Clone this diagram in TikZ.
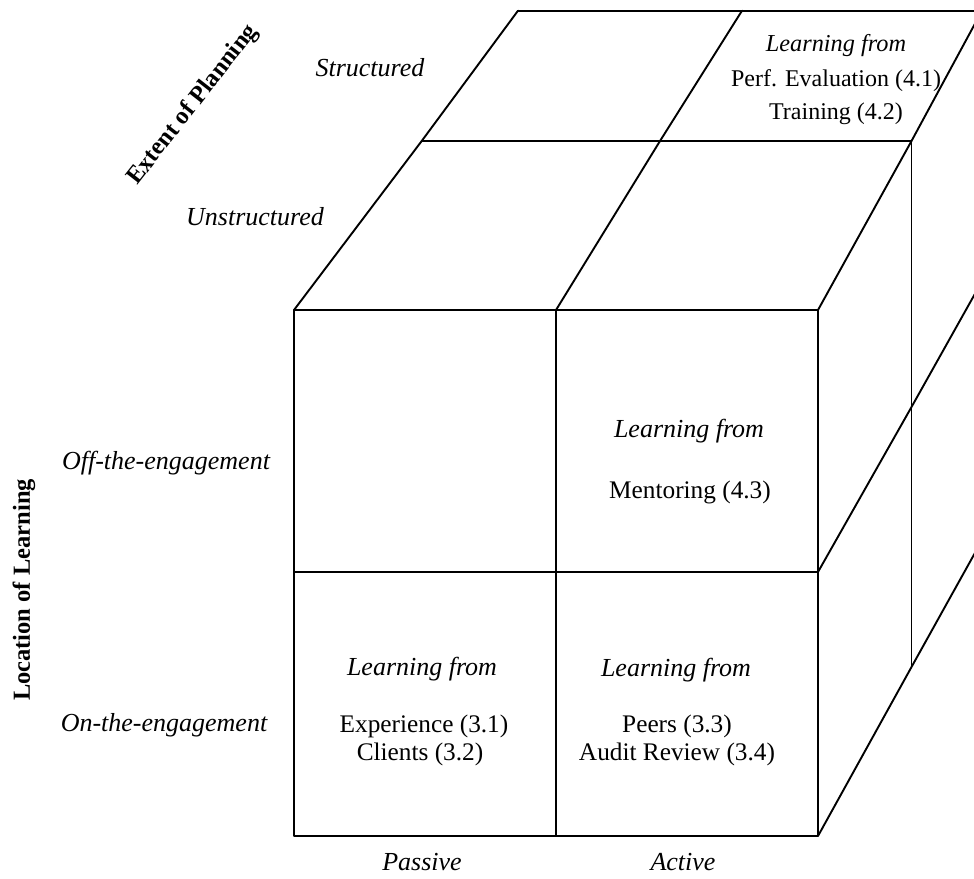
\documentclass[tikz,border=0pt]{standalone}
\usepackage{fontspec}
\setmainfont{Liberation Serif}
\begin{document}
\begin{tikzpicture}[x=1pt,y=-1pt,
  edge/.style={line width=1.9pt, line cap=round, line join=round},
  lbl/.style={font=\fontsize{26}{30}\selectfont\itshape, inner sep=0pt, anchor=base},
  txt/.style={font=\fontsize{25.3}{30}\selectfont, inner sep=0pt, anchor=base},
  toplbl/.style={font=\fontsize{24.3}{29}\selectfont\itshape, inner sep=0pt, anchor=base},
  toptxt/.style={font=\fontsize{24}{29}\selectfont, inner sep=0pt, anchor=base},
  axis/.style={font=\fontsize{24.5}{29}\selectfont\bfseries, inner sep=0pt, anchor=center}]
\useasboundingbox (0,0) rectangle (974,878);
% coordinates
\coordinate (FA) at (294,310); \coordinate (FB) at (556,310); \coordinate (FC) at (818,310);
\coordinate (MA) at (294,572); \coordinate (MC) at (818,572);
\coordinate (BA) at (294,836); \coordinate (BB) at (556,836); \coordinate (BC) at (818,836);
\coordinate (T1A) at (421.7,141); \coordinate (T1B) at (660,141); \coordinate (T1C) at (911.5,141);
\coordinate (T2A) at (518,10.7); \coordinate (T2B) at (742,10.7); \coordinate (T2C) at (982,10.7);
\coordinate (RM) at (911.5,407); \coordinate (RB) at (911.5,667);
\coordinate (RMx) at (981,283); \coordinate (RBx) at (981,542);
\begin{scope}
\clip (0,0) rectangle (974,878);
% front face
\draw[edge] (FA) rectangle (BC);
\draw[edge] (FB) -- (BB);
\draw[edge] (MA) -- (MC);
% top face
\draw[edge] (FA) -- (T1A) -- (T2A);
\draw[edge] (FB) -- (T1B) -- (T2B);
\draw[edge] (FC) -- (T1C) -- (T2C);
\draw[edge] (T1A) -- (T1C);
\draw[edge] (T2A) -- (984,10.7);
% right face
\draw[edge] (T1C) -- (RB);
\draw[edge] (MC) -- (RM) -- (RMx);
\draw[edge] (BC) -- (RB) -- (RBx);
\end{scope}
% axis labels
\node[axis, rotate=52] (ext) at (193,105) {Extent of Planning};
\node[axis, rotate=90] (loc) at (24,590) {Location of Learning};
\node[lbl] (struct) at (370,76) {Structured};
\node[lbl] (unstruct) at (255,225) {Unstructured};
\node[lbl] (off) at (166,469) {Off-the-engagement};
\node[lbl] (on) at (164,731) {On-the-engagement};
\node[lbl] (pass) at (422,870) {Passive};
\node[lbl] (act) at (683,870) {Active};
% cells
\node[toplbl] (lf1) at (836,51) {Learning from};
\node[toptxt] (perf) at (836,86) {Perf. Evaluation (4.1)};
\node[toptxt] (train) at (836,119) {Training (4.2)};
\node[lbl] (lf2) at (689,437) {Learning from};
\node[txt] (ment) at (690,498) {Mentoring (4.3)};
\node[lbl] (lf3) at (422,675) {Learning from};
\node[txt] (exp) at (424,732) {Experience (3.1)};
\node[txt] (cli) at (420,760) {Clients (3.2)};
\node[lbl] (lf4) at (676,676) {Learning from};
\node[txt] (peer) at (677,732) {Peers (3.3)};
\node[txt] (aud) at (677,760) {Audit Review (3.4)};
\end{tikzpicture}
\end{document}
